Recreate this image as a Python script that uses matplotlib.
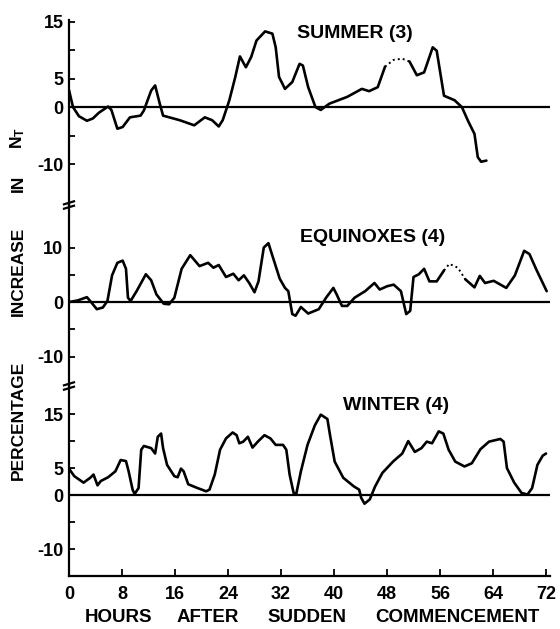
import numpy as np
import matplotlib
matplotlib.use("Agg")
import matplotlib.pyplot as plt
from matplotlib import font_manager
from matplotlib.lines import Line2D

# ---------------- data ----------------
summer_hours = [0, 0.6, 1.5, 2.7, 3.6, 4.5, 5.9, 6.4, 7.3, 8.1, 9.2, 10.8, 11.3, 12.4, 13.0,
                13.7, 14.2, 16.7, 18.9, 20.5, 21.6, 22.6, 23.2, 24.2, 25.1, 25.8, 26.7, 27.5,
                28.3, 29.6, 30.7, 31.2, 31.7, 32.6, 33.7, 34.8, 35.3, 36.1, 37.2, 38.0, 39.3,
                42.0, 44.2, 45.3, 46.6, 47.7, 49.0, 50.3, 51.4, 52.5, 53.6, 54.9, 55.5, 56.6,
                58.2, 59.3, 60.3, 61.2, 61.7, 62.2, 63.0]
summer_vals = [3.0, 0.0, -1.6, -2.4, -2.0, -1.0, 0.1, -0.5, -3.8, -3.5, -1.8, -1.5, -0.6, 2.9, 3.8,
               0.6, -1.5, -2.3, -3.2, -1.8, -2.3, -3.4, -2.3, 1.2, 5.3, 8.9, 7.0, 8.8,
               11.7, 13.3, 12.9, 10.5, 5.3, 3.2, 4.4, 7.6, 7.3, 3.5, 0.0, -0.5, 0.6,
               1.8, 3.2, 2.8, 3.5, 7.1, 8.3, 8.5, 8.0, 5.6, 6.1, 10.5, 9.9, 2.0,
               1.2, 0.0, -2.6, -4.7, -8.8, -9.6, -9.4]
summer_dotted = (47.7, 51.4)

equinox_hours = [0, 1.3, 2.7, 3.2, 4.2, 5.1, 5.8, 6.5, 7.3, 8.1, 8.6, 8.9, 9.3, 10.2, 11.6,
                 12.4, 13.2, 14.3, 15.1, 15.9, 17.0, 18.3, 19.7, 21.0, 21.8, 22.6, 23.7, 24.8,
                 25.6, 26.4, 27.2, 28.0, 28.6, 29.4, 30.1, 30.7, 31.8, 32.6, 33.1, 33.7, 34.2,
                 35.0, 36.1, 37.7, 38.8, 39.9, 40.4, 41.2, 42.0, 43.1, 44.7, 46.1, 46.9, 48.0,
                 49.0, 50.1, 50.9, 51.5, 52.0, 52.8, 53.6, 54.4, 55.5, 56.6, 57.4, 58.7, 59.8,
                 61.2, 62.0, 62.8, 64.1, 66.0, 67.3, 68.7, 69.5, 70.6, 72.1]
equinox_vals = [0.0, 0.3, 0.9, 0.2, -1.3, -1.0, 0.2, 4.9, 7.2, 7.6, 6.1, 0.8, 0.2, 2.0, 5.1,
                4.0, 1.4, -0.3, -0.4, 0.8, 6.1, 8.6, 6.6, 7.2, 6.3, 6.8, 4.6, 5.2,
                4.0, 4.9, 3.5, 1.8, 3.8, 10.0, 10.8, 8.5, 4.3, 2.6, 2.0, -2.2, -2.5,
                -0.9, -2.1, -1.3, 0.8, 2.6, 1.4, -0.7, -0.7, 0.8, 2.0, 3.5, 2.3, 2.9,
                3.2, 2.0, -2.2, -1.6, 4.6, 5.1, 6.1, 3.8, 3.8, 5.8, 7.0, 6.3, 4.2,
                2.7, 4.8, 3.5, 3.9, 2.6, 4.9, 9.4, 8.8, 5.8, 2.0]
equinox_dotted = (56.6, 59.8)

winter_hours = [0, 0.8, 2.2, 3.2, 3.7, 4.3, 4.8, 5.9, 7.0, 7.8, 8.6, 9.0, 9.6, 9.9, 10.5,
                10.9, 11.3, 12.4, 13.0, 13.4, 13.9, 14.2, 14.8, 15.9, 16.4, 16.9, 17.3, 18.0,
                19.4, 20.7, 21.2, 22.0, 22.8, 23.7, 24.7, 25.3, 25.7, 26.3, 27.0, 27.7, 28.5,
                29.5, 30.4, 31.2, 32.3, 32.8, 33.3, 33.9, 34.3, 35.0, 36.0, 37.1, 38.0, 39.0,
                39.4, 40.1, 41.4, 43.0, 43.8, 44.1, 44.6, 45.4, 46.2, 47.3, 48.9, 50.3, 51.2,
                52.2, 53.2, 54.0, 54.8, 55.8, 56.5, 57.3, 58.3, 59.7, 60.8, 62.1, 63.4, 65.1,
                65.6, 66.1, 67.2, 68.3, 69.2, 69.9, 70.7, 71.5, 72.0]
winter_vals = [4.9, 3.5, 2.3, 3.2, 3.8, 1.8, 2.6, 3.3, 4.4, 6.5, 6.3, 4.4, 1.0, 0.2, 1.3,
               8.4, 9.1, 8.7, 7.7, 10.8, 11.4, 8.7, 5.6, 3.5, 3.3, 4.9, 4.4, 2.0,
               1.3, 0.7, 1.0, 3.8, 8.4, 10.5, 11.6, 11.1, 9.6, 9.9, 10.8, 8.8, 9.9,
               11.1, 10.5, 9.3, 9.3, 8.4, 3.8, 0.4, 0.2, 4.4, 9.3, 12.9, 14.9, 14.1,
               11.1, 6.2, 3.2, 1.6, 1.0, -0.5, -1.6, -0.8, 1.6, 4.1, 6.2, 7.7, 10.0,
               8.0, 8.7, 9.9, 9.6, 11.8, 11.4, 8.4, 6.2, 5.3, 5.9, 8.5, 9.9, 10.4,
               9.9, 5.0, 2.3, 0.4, 0.1, 1.3, 5.6, 7.3, 7.7]

panel_titles = ["SUMMER (3)", "EQUINOXES (4)", "WINTER (4)"]
x_ticks = [0, 8, 16, 24, 32, 40, 48, 56, 64, 72]
y_ticks = [[15, 10, 5, 0, -5, -10], [10, 5, 0, -5, -10], [15, 10, 5, 0, -5, -10]]
y_ticklabels = [["15", "", "5", "0", "", "-10"], ["10", "", "0", "", "-10"],
                ["15", "", "5", "0", "", "-10"]]
xlabel_words = ["HOURS", "AFTER", "SUDDEN", "COMMENCEMENT"]
ylabel_words = ["PERCENTAGE", "INCREASE", "IN", r"N$_{\mathregular{T}}$"]


def pick(fams):
    for f in fams:
        try:
            font_manager.findfont(font_manager.FontProperties(family=f),
                                  fallback_to_default=False)
            return f
        except Exception:
            pass
    return "DejaVu Sans"


NARROW = pick(["Liberation Sans Narrow", "Liberation Sans", "DejaVu Sans"])
WIDE = pick(["Liberation Sans", "DejaVu Sans"])
plt.rcParams["axes.unicode_minus"] = False
plt.rcParams["font.family"] = [WIDE, "DejaVu Sans"]
plt.rcParams["mathtext.default"] = "regular"

W, H = 560, 629
fig = plt.figure(figsize=(W / 100, H / 100), dpi=100)


def fx(px):
    return px / W


def fy(py):
    return 1 - py / H


LEFT_PX, RIGHT_PX = 69, 550
XMAX = 72.6
# (top px, bottom px, ylim low, ylim high)
layout = [(20, 205, -17.2, 15.3), (205, 385, -15.2, 17.8), (385, 576, -15.0, 20.4)]
series = [(summer_hours, summer_vals, summer_dotted),
          (equinox_hours, equinox_vals, equinox_dotted),
          (winter_hours, winter_vals, None)]

LW = 1.9
axes = []
for i, ((top, bot, lo, hi), (hrs, vals, dot)) in enumerate(zip(layout, series)):
    ax = fig.add_axes([fx(LEFT_PX), fy(bot), fx(RIGHT_PX - LEFT_PX), (bot - top) / H])
    ax.set_xlim(0, XMAX)
    ax.set_ylim(lo, hi)
    ax.patch.set_alpha(0)
    for s in ["top", "right"]:
        ax.spines[s].set_visible(False)
    ax.spines["left"].set_linewidth(1.6)
    ax.spines["bottom"].set_visible(i == 2)
    ax.spines["bottom"].set_linewidth(1.6)
    ax.axhline(0, color="black", lw=1.6, zorder=2)

    h = np.array(hrs)
    v = np.array(vals)
    kw = dict(color="black", lw=LW, solid_joinstyle="round", solid_capstyle="round", zorder=3)
    if dot is None:
        ax.plot(h, v, **kw)
    else:
        a, b = dot
        m1 = h <= a
        m2 = (h >= a) & (h <= b)
        m3 = h >= b
        ax.plot(h[m1], v[m1], **kw)
        ax.plot(h[m3], v[m3], **kw)
        ax.plot(h[m2], v[m2], color="black", lw=1.4, linestyle=(0, (1, 1.6)), zorder=3)

    ax.set_yticks(y_ticks[i])
    ax.set_yticklabels(y_ticklabels[i], fontfamily=NARROW, fontweight="bold", fontsize=13)
    ax.tick_params(axis="y", direction="in", length=4, width=1.3, pad=4)
    if i == 2:
        ax.set_xticks(x_ticks)
        ax.set_xticklabels([str(t) for t in x_ticks], fontfamily=NARROW,
                           fontweight="bold", fontsize=13)
        ax.tick_params(axis="x", direction="in", length=5, width=1.3, pad=7)
    else:
        ax.set_xticks([])
    axes.append(ax)

# break marks on the vertical axis between panels
for yb in [205, 386]:
    for d in [-2.2, 2.2]:
        fig.add_artist(Line2D([fx(LEFT_PX - 5), fx(LEFT_PX + 5)],
                              [fy(yb + d + 1.5), fy(yb + d - 1.5)],
                              color="black", lw=1.6, transform=fig.transFigure))

# panel titles
title_pos = [(297, 33), (300, 238), (343, 405)]
for t, (px, py) in zip(panel_titles, title_pos):
    fig.text(fx(px), fy(py), t, ha="left", va="center", fontfamily=WIDE,
             fontweight="bold", fontsize=14)

# x label (spaced words)
for wd, cx in zip(xlabel_words, [119, 208, 307, 457]):
    fig.text(fx(cx), fy(618), wd, ha="center", va="center", fontfamily=WIDE,
             fontweight="bold", fontsize=13.5)

# y label (spaced words, rotated)
for wd, cy in zip(ylabel_words, [420, 271, 183, 138]):
    fig.text(fx(18), fy(cy), wd, ha="center", va="center", rotation=90,
             fontfamily=WIDE, fontweight="bold", fontsize=12.5)

fig.savefig("out.png", dpi=100, facecolor="white")
